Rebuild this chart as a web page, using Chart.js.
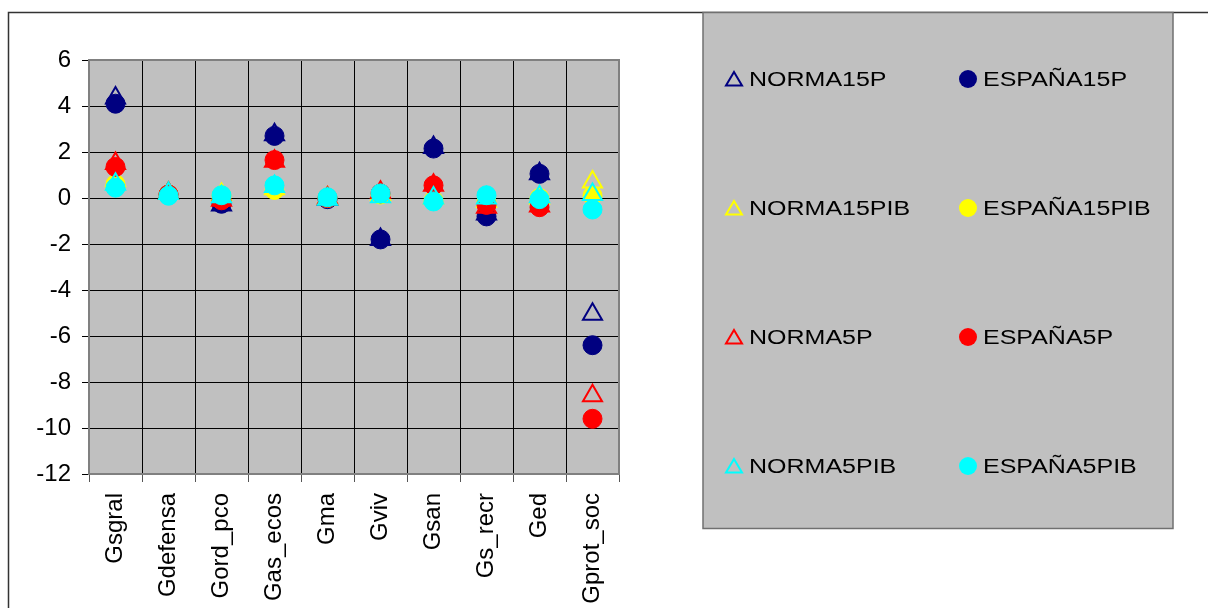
<!DOCTYPE html>
<html>
<head>
<meta charset="utf-8">
<script src="https://cdn.jsdelivr.net/npm/chart.js@4"></script>
<style>
  body { margin: 0; background: #fff; }
  #wrap { width: 1208px; height: 608px; }
</style>
</head>
<body>
<div id="wrap"><canvas id="grafico" width="1208" height="608"></canvas></div>
<script>
// Categorías del eje X
const categorias = ['Gsgral', 'Gdefensa', 'Gord_pco', 'Gas_ecos', 'Gma', 'Gviv', 'Gsan', 'Gs_recr', 'Ged', 'Gprot_soc']

// Valores (una serie por array)
const norma15P    = [4.35, 0.2, -0.3, 2.75, -0.05, -1.8, 2.2, -0.7, 1.05, -5.05]
const espana15P   = [4.1, 0.15, -0.25, 2.7, -0.05, -1.8, 2.15, -0.8, 1.05, -6.4]
const norma15PIB  = [0.75, 0.2, 0.15, 0.4, 0.0, 0.15, 0.0, -0.15, 0.0, 0.7]
const espana15PIB = [0.6, 0.15, 0.1, 0.35, 0.0, 0.15, -0.1, -0.15, 0.0, 0.1]
const norma5P     = [1.5, 0.2, -0.1, 1.6, 0.0, 0.25, 0.55, -0.4, -0.35, -8.6]
const espana5P    = [1.35, 0.15, -0.1, 1.65, 0.0, 0.2, 0.55, -0.3, -0.4, -9.6]
const norma5PIB   = [0.6, 0.2, 0.05, 0.5, -0.05, 0.05, 0.0, 0.0, 0.05, 0.15]
const espana5PIB  = [0.45, 0.1, 0.12, 0.55, 0.03, 0.2, -0.15, 0.12, -0.05, -0.5]

// Ticks del eje Y
const yMin = -12
const yMax = 6
const yPaso = 2

const fuente = "'Liberation Sans', Arial, sans-serif"

const triangulo = (label, data, color) => ({
  label: label,
  data: data,
  pointStyle: 'triangle',
  pointRadius: 11,
  pointBorderWidth: 2,
  pointBorderColor: color,
  pointBackgroundColor: 'rgba(0,0,0,0)',
  borderColor: color,
  showLine: false
})

const circulo = (label, data, color) => ({
  label: label,
  data: data,
  pointStyle: 'circle',
  pointRadius: 9.5,
  pointBorderWidth: 1,
  pointBorderColor: color,
  pointBackgroundColor: color,
  borderColor: color,
  showLine: false
})

const datasets = [
  triangulo('NORMA15P', norma15P, '#000080'),
  circulo('ESPAÑA15P', espana15P, '#000080'),
  triangulo('NORMA15PIB', norma15PIB, '#FFFF00'),
  circulo('ESPAÑA15PIB', espana15PIB, '#FFFF00'),
  triangulo('NORMA5P', norma5P, '#FF0000'),
  circulo('ESPAÑA5P', espana5P, '#FF0000'),
  triangulo('NORMA5PIB', norma5PIB, '#00FFFF'),
  circulo('ESPAÑA5PIB', espana5PIB, '#00FFFF')
]
// las series posteriores se dibujan encima (como en Excel)
datasets.forEach((d, i) => { d.order = datasets.length - i })

// Fondo, marco exterior y área gris del gráfico
const fondo = {
  id: 'fondo',
  beforeDraw(chart) {
    const ctx = chart.ctx
    const a = chart.chartArea
    ctx.save()
    ctx.fillStyle = '#fff'
    ctx.fillRect(0, 0, chart.width, chart.height)
    ctx.fillStyle = '#C0C0C0'
    ctx.fillRect(a.left, a.top, a.right - a.left, a.bottom - a.top)
    // marco exterior
    ctx.strokeStyle = '#333'
    ctx.lineWidth = 1.5
    ctx.beginPath()
    ctx.moveTo(8.5, chart.height)
    ctx.lineTo(8.5, 12.5)
    ctx.lineTo(chart.width, 12.5)
    ctx.stroke()
    ctx.restore()
  },
  beforeDatasetsDraw(chart) {
    const ctx = chart.ctx
    const a = chart.chartArea
    ctx.save()
    ctx.strokeStyle = '#808080'
    ctx.lineWidth = 2
    ctx.strokeRect(a.left, a.top, a.right - a.left, a.bottom - a.top)
    ctx.restore()
  }
}

// Leyenda en caja gris a la derecha, 2 columnas x 4 filas
const leyenda = {
  id: 'leyenda',
  afterDraw(chart) {
    const ctx = chart.ctx
    const caja = { x: 703, y: 12.5, w: 470, h: 516 }
    const filaY = 79
    const filaPaso = 129
    const marcaX = [734, 968]
    const textoX = [749, 983]
    ctx.save()
    ctx.fillStyle = '#C0C0C0'
    ctx.fillRect(caja.x, caja.y, caja.w, caja.h)
    ctx.strokeStyle = '#707070'
    ctx.lineWidth = 1.5
    ctx.strokeRect(caja.x, caja.y, caja.w, caja.h)

    chart.data.datasets.forEach((d, i) => {
      const fila = Math.floor(i / 2)
      const col = i % 2
      const y = filaY + fila * filaPaso
      const x = marcaX[col]
      ctx.beginPath()
      if (d.pointStyle === 'triangle') {
        ctx.moveTo(x, y - 7)
        ctx.lineTo(x + 8, y + 6.5)
        ctx.lineTo(x - 8, y + 6.5)
        ctx.closePath()
        ctx.lineWidth = 2
        ctx.strokeStyle = d.pointBorderColor
        ctx.stroke()
      } else {
        ctx.arc(x, y, 9, 0, Math.PI * 2)
        ctx.fillStyle = d.pointBackgroundColor
        ctx.fill()
      }
      ctx.save()
      ctx.translate(textoX[col], y)
      ctx.scale(1.25, 1)
      ctx.fillStyle = '#000'
      ctx.font = '20px ' + fuente
      ctx.textBaseline = 'middle'
      ctx.textAlign = 'left'
      ctx.fillText(d.label, 0, 1)
      ctx.restore()
    })
    ctx.restore()
  }
}

window.addEventListener('load', () => {
  new Chart(document.getElementById('grafico'), {
    type: 'line',
    data: {
      labels: categorias,
      datasets: datasets
    },
    options: {
      responsive: false,
      animation: false,
      events: [],
      layout: {
        padding: { left: 0, top: 60, right: 589, bottom: 0 }
      },
      plugins: {
        legend: { display: false },
        tooltip: { enabled: false }
      },
      scales: {
        x: {
          offset: true,
          grid: {
            offset: true,
            color: '#000',
            lineWidth: 1,
            tickLength: 8,
            tickColor: '#555'
          },
          border: { color: '#808080', width: 2 },
          ticks: {
            autoSkip: false,
            minRotation: 90,
            maxRotation: 90,
            padding: 11,
            color: '#000',
            font: { family: fuente, size: 24 }
          },
          afterFit: (s) => { s.height = 134 }
        },
        y: {
          min: yMin,
          max: yMax,
          grid: {
            color: '#000',
            lineWidth: 1,
            tickLength: 7
          },
          border: { color: '#808080', width: 2 },
          ticks: {
            stepSize: yPaso,
            padding: 11,
            color: '#000',
            font: { family: fuente, size: 24 }
          },
          afterFit: (s) => { s.width = 89 }
        }
      }
    },
    plugins: [fondo, leyenda]
  })
})
</script>
</body>
</html>
